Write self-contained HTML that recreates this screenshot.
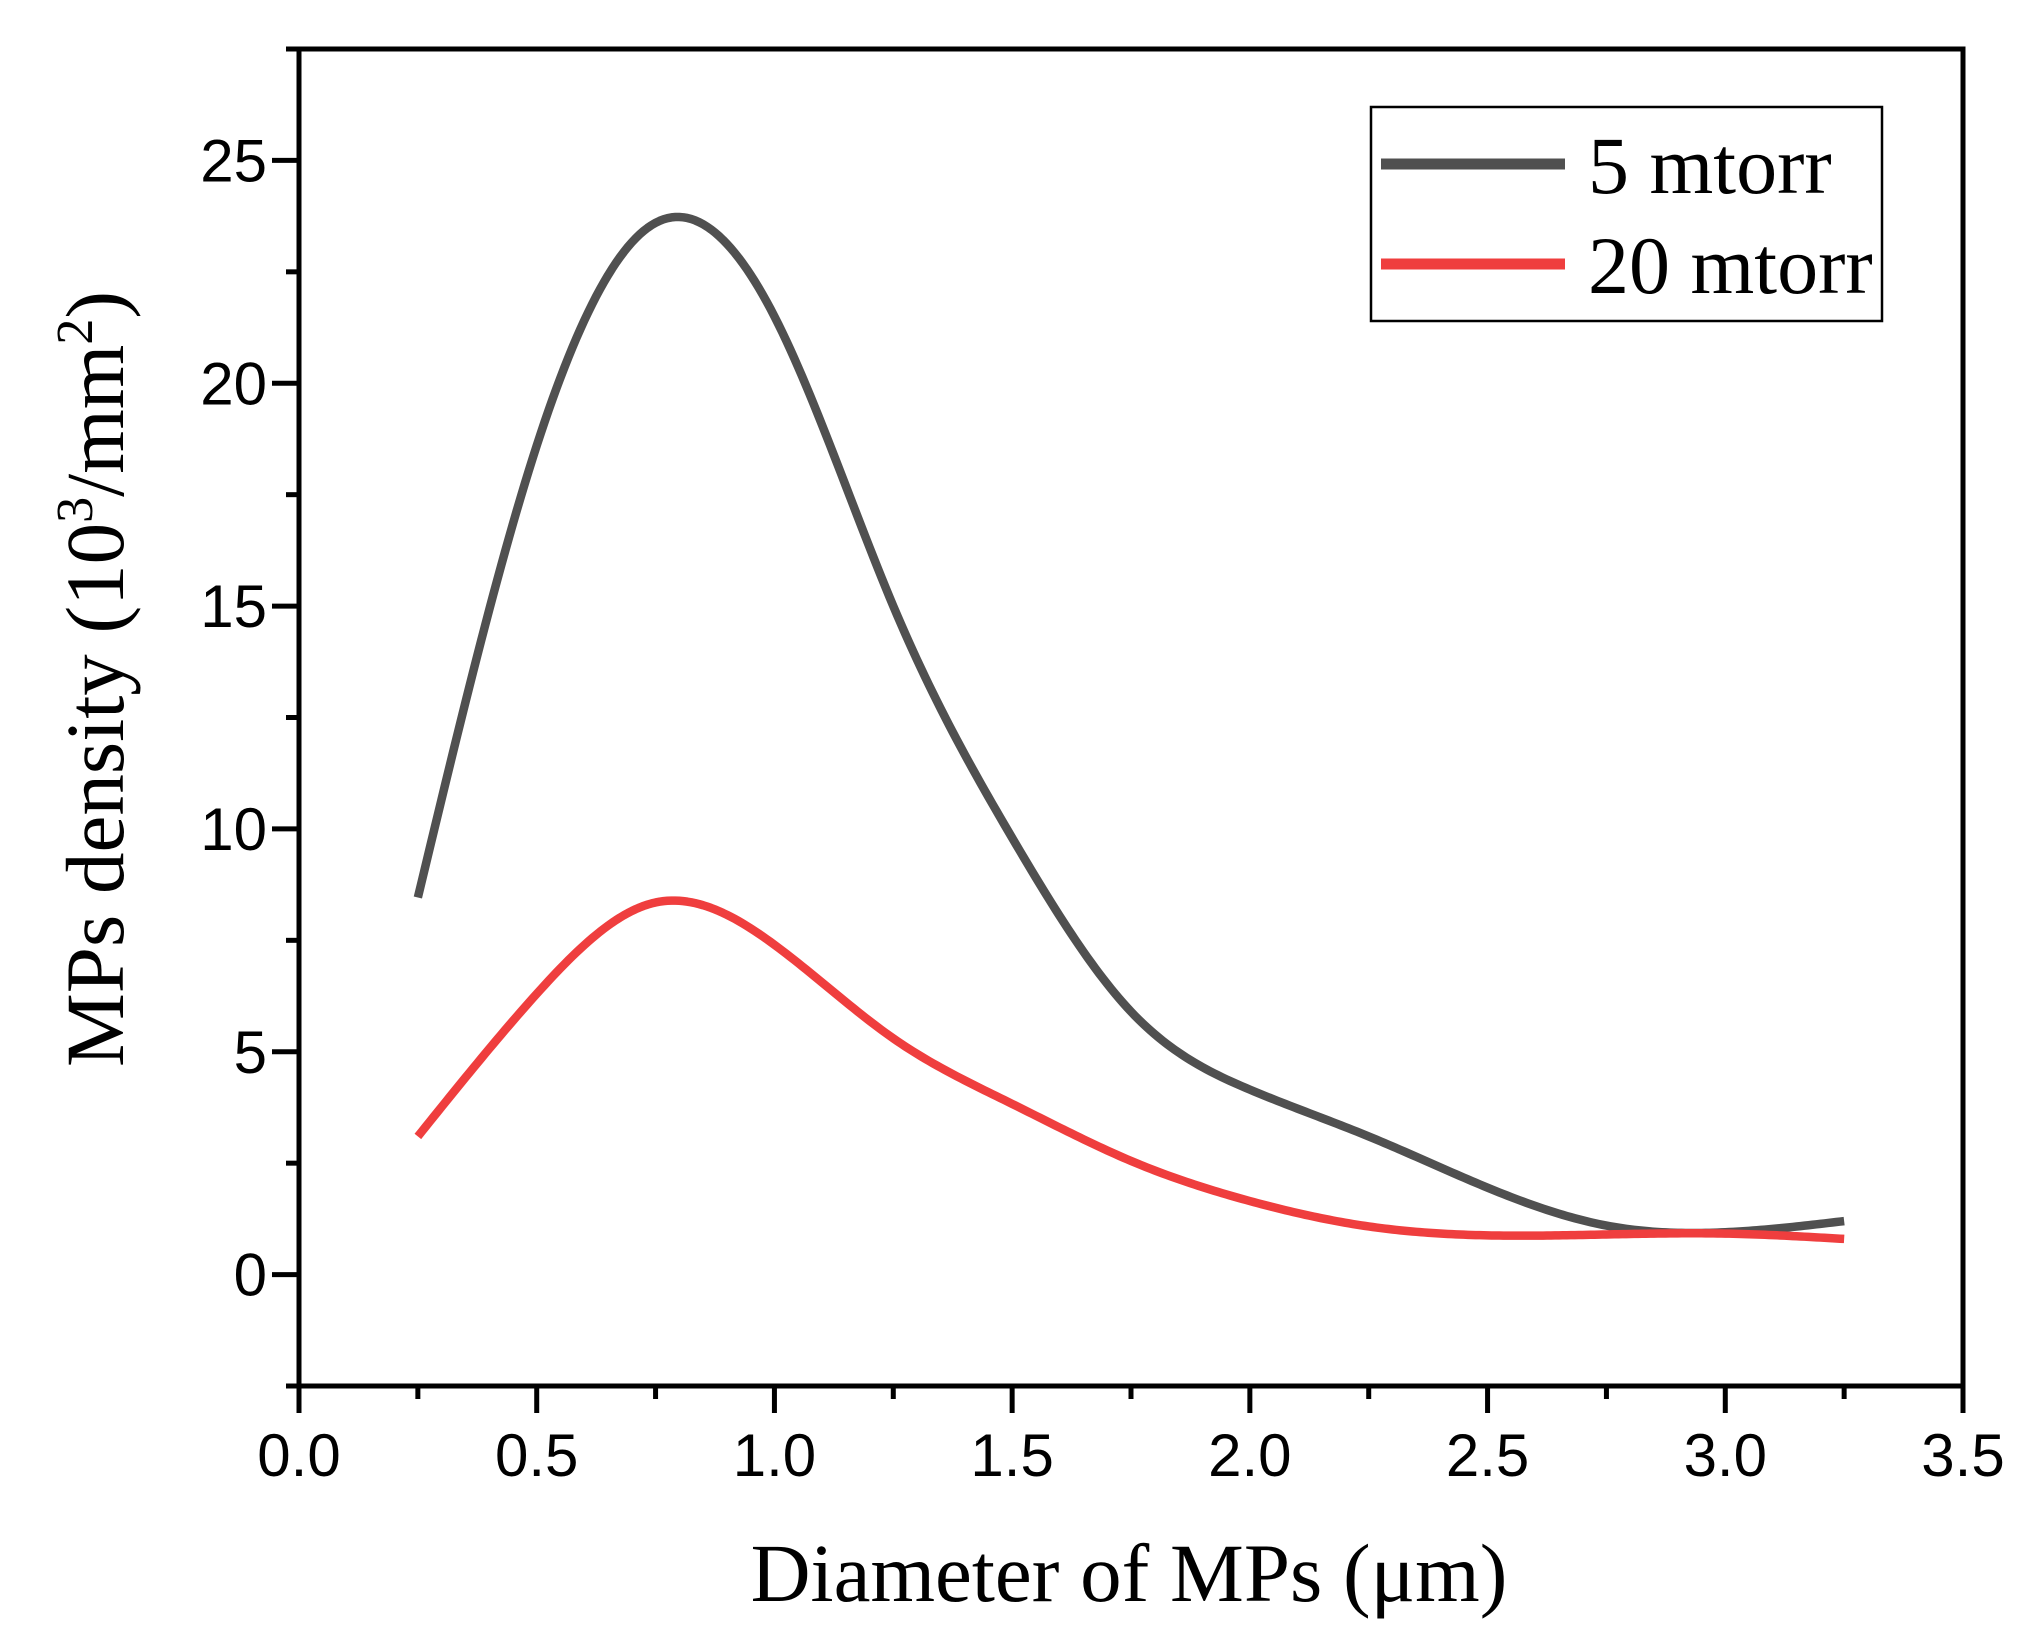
<!DOCTYPE html>
<html><head><meta charset="utf-8"><style>html,body{margin:0;padding:0;background:#fff}svg{display:block}</style></head>
<body>
<svg id="chart" width="2028" height="1643" viewBox="0 0 2028 1643" xmlns="http://www.w3.org/2000/svg">
<g id="axes"></g>
<g id="series"></g>
<g>
  <rect x="1371" y="107" width="511" height="214" fill="#fff" stroke="#000" stroke-width="2.5"/>
  <line x1="1381" y1="164" x2="1565" y2="164" stroke="#505050" stroke-width="11"/>
  <text x="1588" y="193" font-family="Liberation Serif, serif" font-size="82">5 mtorr</text>
  <line x1="1381" y1="264" x2="1565" y2="264" stroke="#ef3e3e" stroke-width="11"/>
  <text x="1588" y="293" font-family="Liberation Serif, serif" font-size="82">20 mtorr</text>
</g>
<text x="1129" y="1601" text-anchor="middle" font-family="Liberation Serif, serif" font-size="83">Diameter of MPs (μm)</text>
<text transform="translate(123,679) rotate(-90)" text-anchor="middle" font-family="Liberation Serif, serif" font-size="83">MPs density (10<tspan font-size="52" dy="-31">3</tspan><tspan dy="31">/mm</tspan><tspan font-size="52" dy="-31">2</tspan><tspan dy="31">)</tspan></text>
</svg>
<script>
const xs = [0.25,0.5,0.75,1.0,1.25,1.5,1.75,2.0,2.25,2.5,2.75,3.0,3.25];
const s5 = [8.46,18.6,23.6,21.5,15.0,9.8,5.9,4.15,3.1,1.95,1.1,0.95,1.2];
const s20 = [3.1,6.3,8.35,7.4,5.3,3.83,2.55,1.65,1.08,0.88,0.9,0.92,0.8];
const xTicks = ["0.0","0.5","1.0","1.5","2.0","2.5","3.0","3.5"];
const yTicks = ["0","5","10","15","20","25"];
const X0=299,X1=1963,Y0=1386,Y1=49, xmin=0,xmax=3.5,ymin=-2.5,ymax=27.5;
const sx=v=>X0+(v-xmin)/(xmax-xmin)*(X1-X0);
const sy=v=>Y0-(v-ymin)/(ymax-ymin)*(Y0-Y1);
const NS="http://www.w3.org/2000/svg";
const axes=document.getElementById('axes'), series=document.getElementById('series');
function mk(t,a,p){const e=document.createElementNS(NS,t);for(const k in a)e.setAttribute(k,a[k]);p.appendChild(e);return e;}
const frame=mk('rect',{x:X0,y:Y1,width:X1-X0,height:Y0-Y1,fill:'none',stroke:'#000','stroke-width':5},axes);


for(let v=0;v<=3.5001;v+=0.25){
  const major=Math.abs(v*2-Math.round(v*2))<1e-6;
  const t=mk('line',{x1:sx(v),x2:sx(v),y1:Y0,y2:Y0+(major?27:13),stroke:'#000','stroke-width':5},axes);
  
  
}
xTicks.forEach(s=>{
  const t=mk('text',{x:sx(parseFloat(s)),y:1476,'text-anchor':'middle','font-family':'Liberation Sans, sans-serif','font-size':60},axes);
  t.textContent=s;
  
  
});
for(let v=-2.5;v<=27.5001;v+=2.5){
  const major=Math.abs(v/5-Math.round(v/5))<1e-6;
  const t=mk('line',{x1:X0-(major?27:13),x2:X0,y1:sy(v),y2:sy(v),stroke:'#000','stroke-width':5},axes);
  
  
}
yTicks.forEach(s=>{
  const t=mk('text',{x:267,y:sy(parseFloat(s))+21,'text-anchor':'end','font-family':'Liberation Sans, sans-serif','font-size':60},axes);
  t.textContent=s;
  
  
});
// natural cubic spline
function path(ys){
  const n=xs.length,h=[],al=[],l=[1],mu=[0],z=[0],c=new Array(n).fill(0);
  for(let i=0;i<n-1;i++)h.push(xs[i+1]-xs[i]);
  for(let i=1;i<n-1;i++)al[i]=3/h[i]*(ys[i+1]-ys[i])-3/h[i-1]*(ys[i]-ys[i-1]);
  for(let i=1;i<n-1;i++){l[i]=2*(xs[i+1]-xs[i-1])-h[i-1]*mu[i-1];mu[i]=h[i]/l[i];z[i]=(al[i]-h[i-1]*z[i-1])/l[i];}
  const b=[],d=[];
  for(let j=n-2;j>=0;j--){c[j]=(j===0?0:z[j]-mu[j]*c[j+1]);b[j]=(ys[j+1]-ys[j])/h[j]-h[j]*(c[j+1]+2*c[j])/3;d[j]=(c[j+1]-c[j])/(3*h[j]);}
  let s='';
  for(let j=0;j<n-1;j++){
    for(let k=0;k<=30;k++){
      const t=h[j]*k/30,v=ys[j]+b[j]*t+c[j]*t*t+d[j]*t*t*t;
      s+=(s?' L':'M')+sx(xs[j]+t).toFixed(2)+','+sy(v).toFixed(2);
    }
  }
  return s;
}
const l1=mk('path',{d:path(s5),fill:'none',stroke:'#505050','stroke-width':8.5,'stroke-linejoin':'round'},series);


const l2=mk('path',{d:path(s20),fill:'none',stroke:'#ef3e3e','stroke-width':8.5,'stroke-linejoin':'round'},series);


</script>
</body></html>
